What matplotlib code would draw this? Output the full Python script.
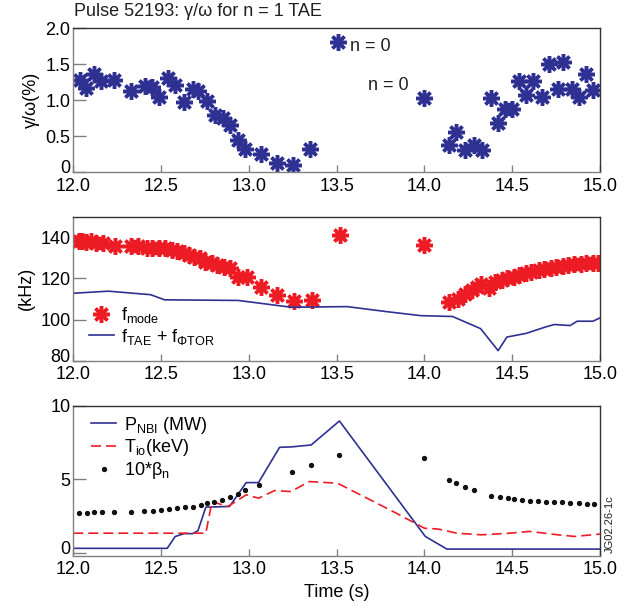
"""
Pulse 52193: growth rate and mode frequency of the n = 1 TAE,
plus heating / temperature / beta traces.
"""

import matplotlib
matplotlib.use('Agg')
import matplotlib.pyplot as plt
from matplotlib.transforms import ScaledTranslation

# Colours
NAVY = '#2E3192'
RED = '#ED1C24'
SPINE_DARK = '#333333'
SPINE_LIGHT = '#808080'

# --- Panel 1: gamma/omega (%) ---
GAMMA_T = [12.04, 12.07, 12.12, 12.16, 12.23, 12.33, 12.41, 12.45, 12.49, 12.54,
           12.58, 12.63, 12.68, 12.71, 12.76, 12.81, 12.85, 12.89, 12.94, 12.98,
           13.07, 13.16, 13.25, 13.35, 13.51, 14.00, 14.14, 14.18, 14.23, 14.28,
           14.33, 14.38, 14.42, 14.46, 14.50, 14.54, 14.58, 14.62, 14.67, 14.71,
           14.76, 14.79, 14.84, 14.88, 14.92, 14.96]
GAMMA_V = [1.28, 1.17, 1.37, 1.27, 1.28, 1.13, 1.20, 1.19, 1.04, 1.31,
           1.21, 0.97, 1.15, 1.13, 0.99, 0.80, 0.76, 0.65, 0.45, 0.32,
           0.26, 0.125, 0.10, 0.32, 1.81, 1.03, 0.38, 0.56, 0.31, 0.38,
           0.31, 1.03, 0.69, 0.88, 0.88, 1.27, 1.08, 1.27, 1.05, 1.50,
           1.15, 1.53, 1.15, 1.04, 1.37, 1.14]
N0_LABELS = [(13.575, 1.74), (13.68, 1.21)]

# --- Panel 2: frequencies (kHz) ---
FMODE_T = [12.03, 12.05, 12.07, 12.10, 12.13, 12.17, 12.24, 12.33, 12.37, 12.42,
           12.45, 12.49, 12.52, 12.56, 12.59, 12.63, 12.66, 12.69, 12.72, 12.75,
           12.79, 12.82, 12.86, 12.89, 12.94, 12.99, 13.07, 13.16, 13.26, 13.36,
           13.52, 14.00, 14.14, 14.19, 14.23, 14.27, 14.30, 14.32, 14.37, 14.40,
           14.44, 14.47, 14.51, 14.54, 14.58, 14.61, 14.65, 14.68, 14.72, 14.75,
           14.79, 14.82, 14.85, 14.89, 14.92, 14.96, 14.99]
FMODE_V = [138.0, 138.4, 137.7, 138.0, 137.2, 137.2, 135.9, 135.6, 135.6, 135.0,
           135.0, 134.7, 134.7, 133.9, 133.1, 132.3, 131.5, 130.6, 129.8, 128.2,
           127.3, 126.5, 125.7, 124.9, 120.8, 120.8, 115.8, 112.1, 108.8, 109.3,
           141.3, 136.4, 108.4, 110.0, 112.5, 114.2, 115.8, 117.5, 115.3, 118.3,
           119.1, 120.0, 120.8, 121.6, 122.4, 123.2, 124.1, 124.4, 124.9, 125.7,
           126.0, 126.5, 126.9, 127.2, 127.5, 127.7, 127.7]
FTAE_T = [12.0, 12.20, 12.44, 12.52, 12.94, 13.24, 13.56, 13.79, 13.98, 14.16,
          14.32, 14.42, 14.47, 14.58, 14.69, 14.74, 14.83, 14.87, 14.96, 15.0]
FTAE_V = [112.8, 113.8, 112.1, 109.6, 109.3, 106.0, 106.3, 103.8, 101.9, 101.5,
          95.6, 84.9, 91.5, 93.3, 96.4, 97.6, 97.1, 99.2, 99.2, 100.8]

# --- Panel 3: P_NBI, T_io, 10*beta_n ---
PNBI_T = [12.0, 12.535, 12.58, 12.63, 12.68, 12.71, 12.755, 12.89, 12.985, 13.055,
          13.175, 13.244, 13.355, 13.516, 14.005, 14.128, 15.0]
PNBI_V = [0.3, 0.3, 1.1, 1.3, 1.3, 1.5, 3.1, 3.15, 4.77, 4.77,
          7.17, 7.2, 7.33, 8.96, 1.11, 0.25, 0.25]
TIO_T = [12.0, 12.755, 12.79, 12.88, 12.985, 13.055, 13.147, 13.24, 13.343, 13.505,
         13.655, 13.84, 14.0, 14.08, 14.185, 14.325, 14.485, 14.6, 14.76, 14.855, 15.0]
TIO_V = [1.33, 1.33, 3.48, 3.14, 3.94, 3.71, 4.23, 4.16, 4.84, 4.73,
         3.82, 2.69, 1.67, 1.61, 1.33, 1.22, 1.33, 1.45, 1.22, 1.11, 1.27]
BETA_T = [12.034, 12.076, 12.12, 12.165, 12.23, 12.33, 12.40, 12.455, 12.50, 12.547,
          12.593, 12.635, 12.68, 12.727, 12.76, 12.80, 12.847, 12.893, 12.94, 12.98,
          13.06, 13.244, 13.355, 13.516, 14.0, 14.14, 14.18, 14.23, 14.28, 14.377,
          14.43, 14.474, 14.51, 14.555, 14.60, 14.647, 14.693, 14.74, 14.786, 14.83,
          14.878, 14.924, 14.966]
BETA_V = [2.73, 2.73, 2.74, 2.75, 2.76, 2.78, 2.81, 2.87, 2.92, 2.99,
          3.03, 3.08, 3.14, 3.26, 3.37, 3.48, 3.60, 3.78, 4.00, 4.28,
          4.59, 5.52, 5.97, 6.65, 6.43, 4.95, 4.77, 4.50, 4.28, 3.87,
          3.78, 3.71, 3.67, 3.60, 3.55, 3.53, 3.48, 3.44, 3.42, 3.37,
          3.35, 3.33, 3.30]

X_TICKS = [12.0, 12.5, 13.0, 13.5, 14.0, 14.5, 15.0]

ASTERISK = (8, 2, 0)
FS = 13


def setup_plot_style():
    """Helvetica-like look with upright sub/superscripts."""
    plt.rcParams['font.family'] = ['Liberation Sans', 'DejaVu Sans']
    plt.rcParams['mathtext.fontset'] = 'custom'
    plt.rcParams['mathtext.rm'] = 'Liberation Sans'
    plt.rcParams['mathtext.it'] = 'Liberation Sans:italic'
    plt.rcParams['mathtext.bf'] = 'Liberation Sans:bold'
    plt.rcParams['font.size'] = FS


def style_axes(ax, yticks, ylabels, ylim):
    ax.set_xlim(12.0, 15.0)
    ax.set_ylim(*ylim)
    ax.set_xticks(X_TICKS)
    ax.set_xticklabels([f'{t:.1f}' for t in X_TICKS])
    ax.set_yticks(yticks)
    ax.set_yticklabels(ylabels)
    ax.tick_params(axis='y', direction='in', length=9, width=1, pad=2,
                   color=SPINE_LIGHT, labelsize=FS)
    ax.tick_params(axis='x', direction='in', length=5, width=1, pad=4,
                   color=SPINE_LIGHT, labelsize=FS)
    for side in ('left', 'bottom'):
        ax.spines[side].set_color(SPINE_LIGHT)
    for side in ('top', 'right'):
        ax.spines[side].set_color(SPINE_DARK)
    for sp in ax.spines.values():
        sp.set_linewidth(1.0)

    # lift the lowest y label a little, as in the original figure
    fig = ax.figure
    low = ax.get_yticklabels()[0]
    low.set_transform(low.get_transform() + ScaledTranslation(0, 4 / 72, fig.dpi_scale_trans))


def plot_growth_rate(ax):
    ax.plot(GAMMA_T, GAMMA_V, linestyle='none', marker=ASTERISK, markersize=12,
            markeredgewidth=2.5, color=NAVY)
    for t, v in N0_LABELS:
        ax.text(t, v, 'n = 0', ha='left', va='center', fontsize=FS, color='#231F20')
    style_axes(ax, [0, 0.5, 1.0, 1.5, 2.0], ['0', '0.5', '1.0', '1.5', '2.0'], (0, 2.0))
    ax.set_ylabel('γ/ω(%)', fontsize=FS, labelpad=4)


def plot_frequencies(ax):
    ax.plot(FMODE_T, FMODE_V, linestyle='none', marker=ASTERISK, markersize=12,
            markeredgewidth=2.5, color=RED, label=r'f$_{\mathregular{mode}}$')
    ax.plot(FTAE_T, FTAE_V, color=NAVY, linewidth=1.2,
            label=r'f$_{\mathregular{TAE}}$ + f$_{\mathregular{\Phi TOR}}$')
    style_axes(ax, [80, 100, 120, 140], ['80', '100', '120', '140'], (80, 150))
    ax.set_ylabel('(kHz)', fontsize=FS, labelpad=4)
    ax.legend(loc='lower left', bbox_to_anchor=(0.005, 0.01), frameon=False,
              fontsize=FS, handlelength=1.4, handletextpad=0.4,
              labelspacing=0.1, borderaxespad=0.3)


def plot_heating(ax):
    ax.plot(PNBI_T, PNBI_V, color=NAVY, linewidth=1.2,
            label=r'P$_{\mathregular{NBI}}$ (MW)')
    ax.plot(TIO_T, TIO_V, color=RED, linewidth=1.2, dashes=(6, 3),
            label=r'T$_{\mathregular{io}}$(keV)')
    ax.plot(BETA_T, BETA_V, linestyle='none', marker='o', markersize=2.8,
            color='#111111', label=r'10*$\mathregular{\beta_n}$')
    style_axes(ax, [0, 5, 10], ['0', '5', '10'], (-0.2, 10))
    ax.set_xlabel('Time (s)', fontsize=FS, labelpad=4)
    ax.legend(loc='upper left', bbox_to_anchor=(0.01, 1.025), frameon=False,
              fontsize=FS, handlelength=1.4, handletextpad=0.4,
              labelspacing=0.1, borderaxespad=0.3)
    ax.text(1.018, 0.02, 'JG02.26-1c', transform=ax.transAxes, rotation=90,
            ha='center', va='bottom', fontsize=8, color='#231F20')


def main():
    setup_plot_style()
    fig = plt.figure(figsize=(6.33, 6.12), dpi=100)

    ax1 = fig.add_axes([0.1158, 0.7185, 0.832, 0.2353])
    ax2 = fig.add_axes([0.1158, 0.4106, 0.832, 0.2353])
    ax3 = fig.add_axes([0.1158, 0.0920, 0.832, 0.2451])

    plot_growth_rate(ax1)
    plot_frequencies(ax2)
    plot_heating(ax3)

    fig.text(74 / 633, 1 - 12 / 612, 'Pulse 52193: γ/ω for n = 1 TAE',
             ha='left', va='center', fontsize=FS, color='#231F20')

    fig.savefig('out.png', dpi=100)


if __name__ == "__main__":
    main()
